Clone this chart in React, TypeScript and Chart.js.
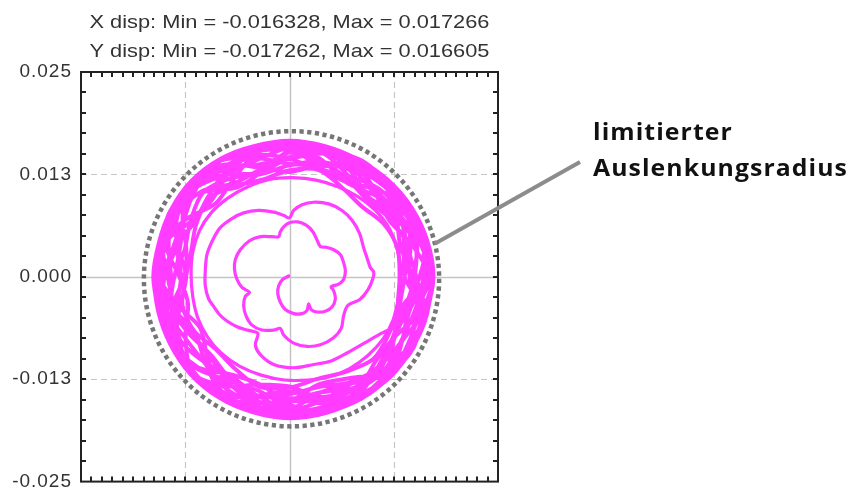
import React, { useEffect, useRef } from 'react';
import { Chart, registerables } from 'chart.js';

Chart.register(...registerables);

// Rotor centre orbit, millimetres. The run-up part is listed point by point.
const ring1X = [-0.1, -0.8, -1.3, -1.4, -1.1, -0.5, 0.5, 1.5, 2.1, 2.3, 2.6, 3.3, 4.3, 5.1, 5.5, 5.3, 5.0, 5.9, 6.5, 6.7,
  6.5, 6.1, 5.3, 4.4, 3.7, 3.3, 2.8, 2.0, 1.0, 0.0, -0.7, -1.1, -1.3, -2.1, -3.5, -4.8, -5.9, -6.5, -6.6, -6.3, -5.7, -4.8];
const ring1Y = [0.1, -0.3, -1.1, -2.1, -3.1, -4.0, -4.5, -4.5, -4.1, -3.3, -4.0, -4.3, -4.2, -3.7, -2.7, -1.7, -1.2, -0.9, -0.3, 0.7,
  1.7, 2.7, 3.3, 3.6, 3.7, 4.5, 5.5, 6.3, 6.7, 6.6, 6.1, 5.5, 4.9, 4.9, 4.9, 4.4, 3.3, 2.1, 0.9, -0.3, -1.3, -1.9];

const ring2X = [-5.3, -5.5, -5.2, -4.5, -3.3, -1.9, -1.1, -0.7, 0.5, 2.1, 3.7, 5.2, 6.2, 6.5, 7.0, 8.4, 9.4, 10.0, 10.1, 9.7,
  9.3, 8.9, 8.4, 7.5, 6.3, 4.7, 2.9, 1.5, 0.5, 0.0, -0.7, -1.9, -3.7, -5.5, -6.9, -8.3, -9.2, -9.9, -10.1, -10.1,
  -9.7, -9.1, -8.4, -7.5, -6.3, -5.1, -3.8];
const ring2Y = [-2.4, -3.5, -4.8, -5.9, -6.5, -6.5, -6.3, -7.1, -8.1, -8.5, -8.3, -7.5, -6.3, -4.7, -3.5, -2.8, -1.6, -0.2, 0.6, 1.1,
  2.3, 3.5, 5.3, 6.9, 8.1, 8.9, 9.1, 8.8, 8.1, 7.2, 7.5, 7.9, 8.1, 7.8, 7.1, 6.0, 4.5, 2.7, 0.7, -1.1,
  -2.7, -3.6, -4.6, -5.4, -6.1, -6.5, -6.9];

const ring3X = [-4.1, -3.5, -1.9, 0.5, 2.9, 4.9, 6.9, 9.3, 11.0, 12.4, 13.2, 13.4, 13.3, 12.8, 11.8, 10.2, 8.2, 5.8, 3.2, 0.4,
  -2.4, -5.0, -7.4, -9.4, -10.8, -11.6, -11.8, -11.6, -11.0, -9.8, -8.2, -6.0, -3.4, -0.6, 2.2, 4.8, 7.2, 9.4, 11.2, 12.4, 13.0];
const ring3Y = [-8.3, -9.5, -10.7, -11.1, -10.7, -10.3, -9.3, -7.9, -6.9, -6.1, -4.2, -1.5, 1.2, 3.8, 6.2, 8.2, 9.8, 11.0, 11.8, 12.1,
  11.9, 11.0, 9.6, 7.8, 5.6, 3.0, 0.3, -2.4, -5.0, -7.4, -9.3, -10.9, -12.0, -12.6, -12.6, -12.2, -11.2, -9.6, -7.6, -5.3, -3.0];

// Saturated turns against the clearance limit: radius (mm) at each angle (deg).
const bandAngles = [0, 15, 30, 45, 60, 75, 90, 105, 120, 135, 150, 165, 180, 195, 210, 225, 240, 255, 270, 285, 300, 315, 330, 345];
const bandTurns = [
  [13.2, 13.4, 13.0, 12.2, 12.6, 13.5, 13.0, 12.3, 12.8, 13.6, 12.9, 12.2, 12.4, 13.3, 13.2, 12.5, 13.0, 13.9, 13.5, 12.9, 13.4, 14.2, 13.8, 13.6],
  [13.8, 14.6, 14.0, 13.2, 13.8, 14.5, 13.6, 13.0, 13.9, 14.6, 13.7, 13.0, 13.8, 14.6, 13.9, 13.4, 14.3, 15.0, 14.3, 13.9, 14.8, 15.3, 14.6, 14.4],
  [15.0, 15.6, 14.8, 14.4, 15.2, 15.6, 14.6, 14.2, 15.2, 15.6, 14.5, 14.0, 15.0, 15.4, 14.6, 14.6, 15.6, 15.9, 15.2, 15.2, 16.0, 16.1, 15.5, 15.6],
  [16.3, 16.5, 15.8, 15.9, 16.3, 16.0, 15.6, 15.9, 16.4, 16.1, 15.5, 15.6, 16.0, 15.7, 15.7, 16.3, 16.8, 16.4, 16.3, 16.8, 17.0, 16.6, 16.6, 17.0],
  [17.1, 17.0, 16.9, 16.7, 16.5, 16.4, 16.4, 16.5, 16.6, 16.6, 16.4, 16.2, 16.2, 16.3, 16.5, 16.8, 17.0, 17.1, 17.1, 17.1, 17.2, 17.1, 17.1, 17.1],
  [16.8, 15.2, 13.8, 14.5, 16.2, 16.3, 14.6, 13.2, 14.4, 16.3, 15.8, 13.8, 12.4, 13.6, 15.6, 16.6, 15.4, 13.6, 13.4, 15.4, 17.0, 16.4, 14.6, 14.8],
  [16.6, 17.0, 16.0, 14.2, 13.4, 14.8, 16.2, 15.6, 13.6, 12.6, 14.2, 15.8, 15.6, 13.8, 12.4, 13.9, 16.2, 16.8, 15.2, 13.6, 14.3, 16.5, 17.1, 16.6],
  [14.8, 13.8, 14.8, 16.5, 16.0, 14.2, 12.8, 13.8, 15.8, 16.5, 14.8, 12.8, 12.6, 14.6, 16.2, 15.6, 13.8, 13.6, 15.6, 17.1, 16.2, 14.6, 14.6, 16.4],
  [17.1, 16.2, 14.4, 13.6, 14.8, 16.3, 15.4, 13.2, 12.6, 14.6, 16.2, 15.4, 13.2, 12.6, 14.4, 16.6, 16.8, 15.0, 14.0, 15.2, 16.8, 17.1, 15.6, 14.8],
  [15.6, 17.0, 16.6, 15.0, 13.4, 13.8, 15.8, 16.2, 14.6, 13.2, 13.6, 15.6, 16.0, 14.6, 13.2, 14.4, 16.4, 17.0, 16.2, 14.6, 15.0, 16.8, 17.2, 16.4],
  [16.0, 16.6, 16.9, 16.2, 15.0, 14.6, 15.4, 16.2, 16.4, 15.6, 14.6, 14.4, 15.2, 16.0, 16.3, 15.6, 15.0, 15.6, 16.6, 16.9, 16.2, 15.4, 15.6, 16.4],
  [15.2, 14.6, 15.4, 16.4, 16.6, 15.6, 14.4, 14.2, 15.4, 16.4, 16.2, 15.0, 14.2, 14.6, 15.8, 16.6, 16.2, 15.2, 14.8, 16.0, 17.0, 16.6, 15.6, 15.0],
  [16.6, 16.2, 15.2, 14.8, 15.8, 16.4, 15.8, 14.8, 14.6, 15.6, 16.4, 15.8, 14.6, 14.4, 15.4, 16.4, 16.8, 16.0, 15.2, 15.6, 16.6, 17.0, 16.4, 16.0],
  [14.4, 15.0, 16.2, 16.6, 15.4, 14.0, 13.8, 15.0, 16.4, 16.2, 14.6, 13.6, 13.8, 15.2, 16.2, 15.8, 14.6, 14.4, 15.8, 16.9, 16.6, 15.2, 14.4, 14.0],
  [16.4, 16.9, 16.6, 15.8, 15.6, 16.2, 16.3, 15.7, 15.6, 16.2, 16.2, 15.5, 15.4, 15.9, 16.2, 16.4, 16.6, 16.8, 16.6, 16.4, 16.8, 17.1, 16.9, 16.5],
  [13.8, 14.2, 15.4, 15.2, 14.2, 13.6, 14.4, 15.4, 15.0, 13.8, 13.2, 14.2, 15.2, 14.8, 13.6, 13.6, 14.8, 15.8, 15.0, 14.6, 15.6, 15.6, 14.4, 14.0],
  [17.0, 16.6, 16.0, 16.4, 16.5, 16.0, 15.8, 16.3, 16.5, 16.0, 15.6, 15.9, 16.1, 15.8, 16.0, 16.6, 16.9, 16.8, 16.8, 17.0, 17.1, 16.8, 16.6, 17.0],
  [15.0, 15.8, 15.0, 13.6, 14.2, 15.6, 15.2, 13.6, 13.2, 14.8, 15.4, 14.0, 13.0, 14.0, 15.2, 14.6, 14.0, 15.0, 16.2, 15.6, 15.0, 16.0, 16.6, 15.8],
  [16.9, 16.8, 16.7, 16.5, 16.3, 16.3, 16.4, 16.4, 16.5, 16.5, 16.3, 16.1, 16.1, 16.2, 16.4, 16.7, 16.9, 17.0, 17.1, 17.1, 17.1, 17.0, 17.1, 17.0],
  [17.266, 17.1, 16.9, 16.7, 16.5, 16.5, 16.605, 16.5, 16.6, 16.6, 16.4, 16.2, 16.328, 16.2, 16.5, 16.7, 16.9, 17.1, 17.262, 17.2, 17.1, 17.2, 17.1, 17.1],
];

// Clearance circle (m)
const limitCenter = [0.00024, -0.00024];
const limitRadius = 0.0177;
const limitDots = 120;

// Axes (m)
const axisMin = -0.025;
const axisMax = 0.025;
const yTickValues = [-0.025, -0.0125, 0, 0.0125, 0.025];
const yTickLabels = ['-0.025', '-0.013', '0.000', '0.013', '0.025'];
const gridValues = [-0.0125, 0, 0.0125];
const xMinorStep = 0.00125;
const yMinorStep = 0.0025;

const annotationLines = ['limitierter', 'Auslenkungsradius'];
const annotationAngleDeg = 14;

const MM = 0.001;

function buildRunUp() {
  const pts: { x: number; y: number }[] = [];
  const pushXY = (xs: number[], ys: number[]) => xs.forEach((v, i) => pts.push({ x: v * MM, y: ys[i] * MM }));
  pushXY(ring1X, ring1Y);
  pushXY(ring2X, ring2Y);
  pushXY(ring3X, ring3Y);
  return pts;
}

function buildBand(start: { x: number; y: number }) {
  const pts: { x: number; y: number }[] = [start];
  bandTurns.forEach((turn) =>
    turn.forEach((r, i) => {
      const a = (bandAngles[i] * Math.PI) / 180;
      pts.push({ x: r * Math.cos(a) * MM, y: r * Math.sin(a) * MM });
    })
  );
  return pts;
}

const runUp = buildRunUp();
const band = buildBand(runUp[runUp.length - 1]);
const allPts = runUp.concat(band);
const xVals = allPts.map((p) => p.x);
const yVals = allPts.map((p) => p.y);
const titleLines = [
  `X disp: Min = ${Math.min(...xVals).toFixed(6)}, Max = ${Math.max(...xVals).toFixed(6)}`,
  `Y disp: Min = ${Math.min(...yVals).toFixed(6)}, Max = ${Math.max(...yVals).toFixed(6)}`,
];

const decorations = {
  id: 'orbitDecorations',
  beforeDraw(chart: any) {
    chart.ctx.letterSpacing = '1px';
  },
  beforeDatasetsDraw(chart: any) {
    const { ctx, chartArea: a, scales } = chart;
    const xs = scales.x;
    const ys = scales.y;
    ctx.save();
    for (const v of gridValues) {
      const solid = v === 0;
      ctx.beginPath();
      ctx.setLineDash(solid ? [] : [6, 4]);
      ctx.lineWidth = solid ? 1.5 : 1.2;
      ctx.strokeStyle = solid ? '#c4c4c4' : '#c6c6c6';
      const px = Math.round(xs.getPixelForValue(v)) + 0.5;
      ctx.moveTo(px, a.top);
      ctx.lineTo(px, a.bottom);
      const py = Math.round(ys.getPixelForValue(v)) + 0.5;
      ctx.moveTo(a.left, py);
      ctx.lineTo(a.right, py);
      ctx.stroke();
    }
    const cx = xs.getPixelForValue(limitCenter[0]);
    const cy = ys.getPixelForValue(limitCenter[1]);
    const r = xs.getPixelForValue(limitCenter[0] + limitRadius) - cx;
    const period = (2 * Math.PI * r) / limitDots;
    ctx.setLineDash([period * 0.55, period * 0.45]);
    ctx.lineWidth = 4.5;
    ctx.strokeStyle = '#767676';
    ctx.beginPath();
    ctx.arc(cx, cy, r, 0, Math.PI * 2);
    ctx.stroke();
    ctx.restore();
  },
  afterDatasetsDraw(chart: any) {
    const { ctx, chartArea: a, scales } = chart;
    const xs = scales.x;
    const ys = scales.y;
    const tickLen = 5;
    ctx.save();
    ctx.setLineDash([]);
    ctx.strokeStyle = '#222';
    ctx.lineWidth = 2;
    ctx.strokeRect(a.left, a.top, a.right - a.left, a.bottom - a.top);

    ctx.beginPath();
    const nx = Math.round((axisMax - axisMin) / xMinorStep);
    for (let i = 1; i < nx; i++) {
      const px = Math.round(xs.getPixelForValue(axisMin + i * xMinorStep));
      ctx.moveTo(px, a.top);
      ctx.lineTo(px, a.top + tickLen);
      ctx.moveTo(px, a.bottom);
      ctx.lineTo(px, a.bottom - tickLen);
    }
    const ny = Math.round((axisMax - axisMin) / yMinorStep);
    for (let i = 1; i < ny; i++) {
      const py = Math.round(ys.getPixelForValue(axisMin + i * yMinorStep));
      ctx.moveTo(a.left, py);
      ctx.lineTo(a.left + tickLen, py);
      ctx.moveTo(a.right, py);
      ctx.lineTo(a.right - tickLen, py);
    }
    ctx.stroke();

    // leader from the clearance circle to the note
    const ang = (annotationAngleDeg * Math.PI) / 180;
    const sx = xs.getPixelForValue(limitCenter[0] + limitRadius * Math.cos(ang));
    const sy = ys.getPixelForValue(limitCenter[1] + limitRadius * Math.sin(ang));
    ctx.strokeStyle = '#8c8c8c';
    ctx.lineWidth = 4;
    ctx.beginPath();
    ctx.moveTo(sx, sy);
    ctx.lineTo(580, 162);
    ctx.stroke();

    // note text
    ctx.fillStyle = '#111';
    ctx.textAlign = 'left';
    ctx.textBaseline = 'alphabetic';
    ctx.font = 'bold 23px "Open Sans", sans-serif';
    ctx.letterSpacing = '1px';
    const noteK = 255 / ctx.measureText(annotationLines[1]).width;
    const noteBase = [140, 176];
    annotationLines.forEach((line, i) => {
      ctx.save();
      ctx.translate(593, noteBase[i]);
      ctx.scale(noteK, 1);
      ctx.fillText(line, 0, 0);
      ctx.restore();
    });

    // title
    ctx.fillStyle = '#333';
    ctx.textAlign = 'center';
    ctx.font = '19px "Liberation Sans", Arial, sans-serif';
    ctx.letterSpacing = '0px';
    const titleK = 400 / ctx.measureText(titleLines[0]).width;
    const titleBase = [28, 57];
    const tcx = (a.left + a.right) / 2;
    titleLines.forEach((line, i) => {
      ctx.save();
      ctx.translate(tcx, titleBase[i]);
      ctx.scale(titleK, 1);
      ctx.fillText(line, 0, 0);
      ctx.restore();
    });
    ctx.restore();
  },
  afterDraw(chart: any) {
    chart.ctx.letterSpacing = '0px';
  },
};

const orbitStyle = {
  showLine: true,
  pointRadius: 0,
  borderColor: '#ff3cff',
  tension: 0.3,
  borderJoinStyle: 'round',
  borderCapStyle: 'round',
  fill: false,
};

export default function App() {
  const canvasRef = useRef<HTMLCanvasElement | null>(null);

  useEffect(() => {
    const canvas = canvasRef.current;
    if (!canvas) return;
    const chart = new Chart(canvas, {
      type: 'scatter',
      data: {
        datasets: [
          { ...orbitStyle, label: 'run-up', data: runUp, borderWidth: 3.2 } as any,
          { ...orbitStyle, label: 'limited', data: band, borderWidth: 4 } as any,
        ],
      },
      options: {
        animation: false,
        responsive: false,
        devicePixelRatio: 1,
        events: [],
        layout: { padding: { left: 0, top: 72, right: 356, bottom: 13 } },
        plugins: { legend: { display: false }, tooltip: { enabled: false }, title: { display: false } },
        scales: {
          x: { type: 'linear', min: axisMin, max: axisMax, display: false },
          y: {
            type: 'linear',
            min: axisMin,
            max: axisMax,
            afterBuildTicks: (s: any) => {
              s.ticks = yTickValues.map((v) => ({ value: v }));
            },
            afterFit: (s: any) => {
              s.width = 81;
            },
            ticks: {
              autoSkip: false,
              maxRotation: 0,
              padding: 9,
              color: '#333',
              font: { family: '"Liberation Sans", Arial, sans-serif', size: 19 },
              callback: (_v: any, i: number) => yTickLabels[i],
            },
            grid: { display: false, drawTicks: false },
            border: { display: false },
          },
        },
      },
      plugins: [decorations],
    } as any);
    return () => chart.destroy();
  }, []);

  return (
    <div style={{ position: 'absolute', left: 0, top: 0, width: 854, height: 502, background: '#fff' }}>
      <canvas ref={canvasRef} width={854} height={502} style={{ display: 'block' }} />
    </div>
  );
}
